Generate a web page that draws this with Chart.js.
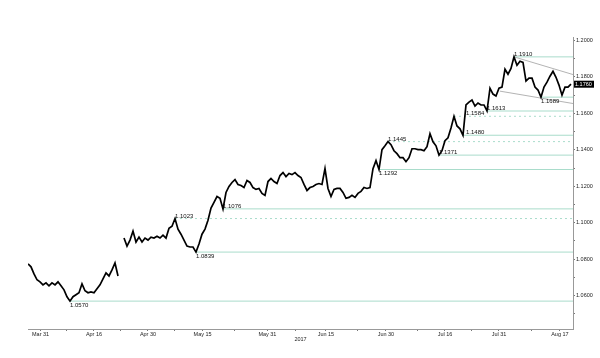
<!DOCTYPE html>
<html>
<head>
<meta charset="utf-8">
<script src="https://cdn.jsdelivr.net/npm/chart.js@4/dist/chart.umd.min.js"></script>
<style>
html,body{margin:0;padding:0;background:#fff;}
#wrap{width:600px;height:358px;position:relative;}
</style>
</head>
<body>
<div id="wrap"><canvas id="c" width="600" height="358"></canvas></div>
<script>
// ---- data ----
const prices = [
1.0774,1.0758,1.0719,1.0687,1.0676,1.0659,1.0670,1.0654,1.0670,1.0659,
1.0676,1.0654,1.0632,1.0594,1.0570,1.0594,1.0605,1.0616,1.0665,1.0627,
1.0616,1.0621,1.0616,1.0638,1.0659,1.0692,1.0725,1.0708,1.0741,1.0779,
1.0708,null,1.0916,1.0872,1.0905,1.0954,1.0894,1.0921,1.0894,1.0916,
1.0905,1.0921,1.0916,1.0926,1.0916,1.0932,1.0916,1.0970,1.0981,1.1023,
1.0965,1.0937,1.0905,1.0872,1.0867,1.0867,1.0839,1.0883,1.0937,1.0965,
1.1014,1.1080,1.1112,1.1144,1.1134,1.1076,1.1166,1.1199,1.1221,1.1237,
1.1210,1.1204,1.1193,1.1232,1.1221,1.1193,1.1183,1.1188,1.1161,1.1150,
1.1226,1.1243,1.1226,1.1215,1.1259,1.1275,1.1253,1.1270,1.1264,1.1275,
1.1259,1.1248,1.1210,1.1177,1.1193,1.1199,1.1210,1.1215,1.1210,1.1297,
1.1188,1.1144,1.1183,1.1188,1.1188,1.1166,1.1134,1.1139,1.1150,1.1139,
1.1161,1.1172,1.1193,1.1188,1.1193,1.1297,1.1341,1.1292,1.1401,1.1422,
1.1445,1.1428,1.1395,1.1379,1.1357,1.1357,1.1335,1.1357,1.1406,1.1406,
1.1401,1.1401,1.1395,1.1417,1.1488,1.1444,1.1422,1.1371,1.1395,1.1450,
1.1466,1.1520,1.1584,1.1531,1.1515,1.1480,1.1646,1.1662,1.1673,1.1640,
1.1657,1.1646,1.1646,1.1613,1.1738,1.1706,1.1695,1.1738,1.1744,1.1842,
1.1815,1.1847,1.1910,1.1864,1.1886,1.1880,1.1777,1.1793,1.1793,1.1744,
1.1728,1.1689,1.1744,1.1771,1.1804,1.1831,1.1798,1.1755,1.1700,1.1744,
1.1744,1.1760
];
const xMax = 181.67;
const xTickPos = [4.2, 22, 40, 58.2, 79.8, 99.3, 119.3, 139, 157, 177.3];
const xTickLabels = ['Mar 31','Apr 16','Apr 30','May 15','May 31','Jun 15','Jun 30','Jul 16','Jul 31','Aug 17'];
const xMinorPos = [13, 31, 49, 69, 89.3, 110, 130, 148, 168];
const yMajorTicks = [1.06,1.08,1.10,1.12,1.14,1.16,1.18,1.20];
const yMinorTicks = [1.05,1.07,1.09,1.11,1.13,1.15,1.17,1.19];
const yearLabel = '2017';

// support / resistance levels
const levels      = [1.0570,1.0839,1.1023,1.1076,1.1292,1.1371,1.1445,1.1480,1.1584,1.1613,1.1689,1.1910];
const levelStart  = [14,    56,    49,    65,    117,   137,   120,   145,   142,   153,   171,   162];
const levelDashed = [false, false, true,  false, false, false, true,  false, true,  false, false, false];
const labelX      = [14,    56,    49,    65,    117,   137,   120,   146,   146,   153,   171,   162];
const labelBelow  = [true,  true,  false, false, true,  false, false, false, false, false, true,  false];

// wedge trendlines
const upperTrend = [[162, 1.1910],[xMax, 1.1813]];
const lowerTrend = [[157.3, 1.1722],[xMax, 1.1654]];
const lastPriceLabel = '1.1760';

// ---- build ----
const lineData = prices.map((p,i)=>({x:i, y:p}));
const datasets = [{
  data: lineData, borderColor:'#000', borderWidth:1.7, pointRadius:0,
  tension:0, spanGaps:false, order:0
}];
levels.forEach((v,k)=>{
  datasets.push({
    data:[{x:levelStart[k],y:v},{x:xMax,y:v}],
    borderColor:'#a9dccb', borderWidth:1, pointRadius:0,
    borderDash: levelDashed[k] ? [2,3] : [], order:2
  });
});
[upperTrend, lowerTrend].forEach(t=>{
  datasets.push({
    data:t.map(a=>({x:a[0],y:a[1]})),
    borderColor:'#a0a0a0', borderWidth:0.8, pointRadius:0, order:1
  });
});

const annot = {
  id:'annot',
  afterDatasetsDraw(chart){
    const {ctx, scales:{x,y}} = chart;
    ctx.save();
    ctx.font = '6px "Liberation Sans", Arial, sans-serif';
    ctx.fillStyle = '#111';
    ctx.textAlign = 'left';
    levels.forEach((v,k)=>{
      const px = x.getPixelForValue(labelX[k]);
      const py = y.getPixelForValue(v);
      if (labelBelow[k]) { ctx.textBaseline='top'; ctx.fillText(v.toFixed(4), px, py+1); }
      else { ctx.textBaseline='bottom'; ctx.fillText(v.toFixed(4), px, py+0.5); }
    });
    const lp = y.getPixelForValue(prices[prices.length-1]);
    ctx.fillStyle = '#000';
    ctx.fillRect(x.right+1, lp-3.5, 20, 7);
    ctx.fillStyle = '#fff';
    ctx.textBaseline = 'middle';
    ctx.font = '5.5px "Liberation Sans", Arial, sans-serif';
    ctx.fillText(lastPriceLabel, x.right+2, lp+0.5);
    ctx.restore();
  }
};

new Chart(document.getElementById('c'), {
  type:'line',
  data:{datasets},
  options:{
    responsive:false, animation:false,
    layout:{padding:{left:28, top:37, right:0, bottom:0}},
    plugins:{legend:{display:false}, tooltip:{enabled:false}},
    scales:{
      x:{
        type:'linear', position:'bottom', min:0, max:xMax,
        afterBuildTicks(s){
          s.ticks = [...xTickPos, ...xMinorPos].sort((a,b)=>a-b).map(v=>({value:v}));
        },
        afterFit(s){ s.height = 29; },
        ticks:{
          autoSkip:false, maxRotation:0, padding:0, color:'#222',
          font:{family:'"Liberation Sans", Arial, sans-serif', size:5.5},
          callback(v){ const k = xTickPos.indexOf(v); return k>=0 ? xTickLabels[k] : ''; }
        },
        grid:{drawOnChartArea:false, drawTicks:true, tickLength:2, color:'#777'},
        border:{display:true, color:'#999', width:1},
        title:{display:true, text:yearLabel, color:'#222',
          font:{family:'"Liberation Sans", Arial, sans-serif', size:5.5},
          padding:{top:0, bottom:15}}
      },
      y:{
        type:'linear', position:'right', min:1.0417, max:1.2019,
        afterBuildTicks(s){
          s.ticks = [...yMinorTicks, ...yMajorTicks].sort((a,b)=>a-b).map(v=>({value:v}));
        },
        afterFit(s){ s.width = 27; },
        ticks:{
          padding:1, color:'#222',
          font:{family:'"Liberation Sans", Arial, sans-serif', size:5.5},
          callback(v){ return yMajorTicks.some(m=>Math.abs(m-v)<1e-6) ? v.toFixed(4) : ''; }
        },
        grid:{drawOnChartArea:false, drawTicks:true, tickLength:2, color:'#777'},
        border:{display:true, color:'#999', width:1}
      }
    }
  },
  plugins:[annot]
});
</script>
</body>
</html>
